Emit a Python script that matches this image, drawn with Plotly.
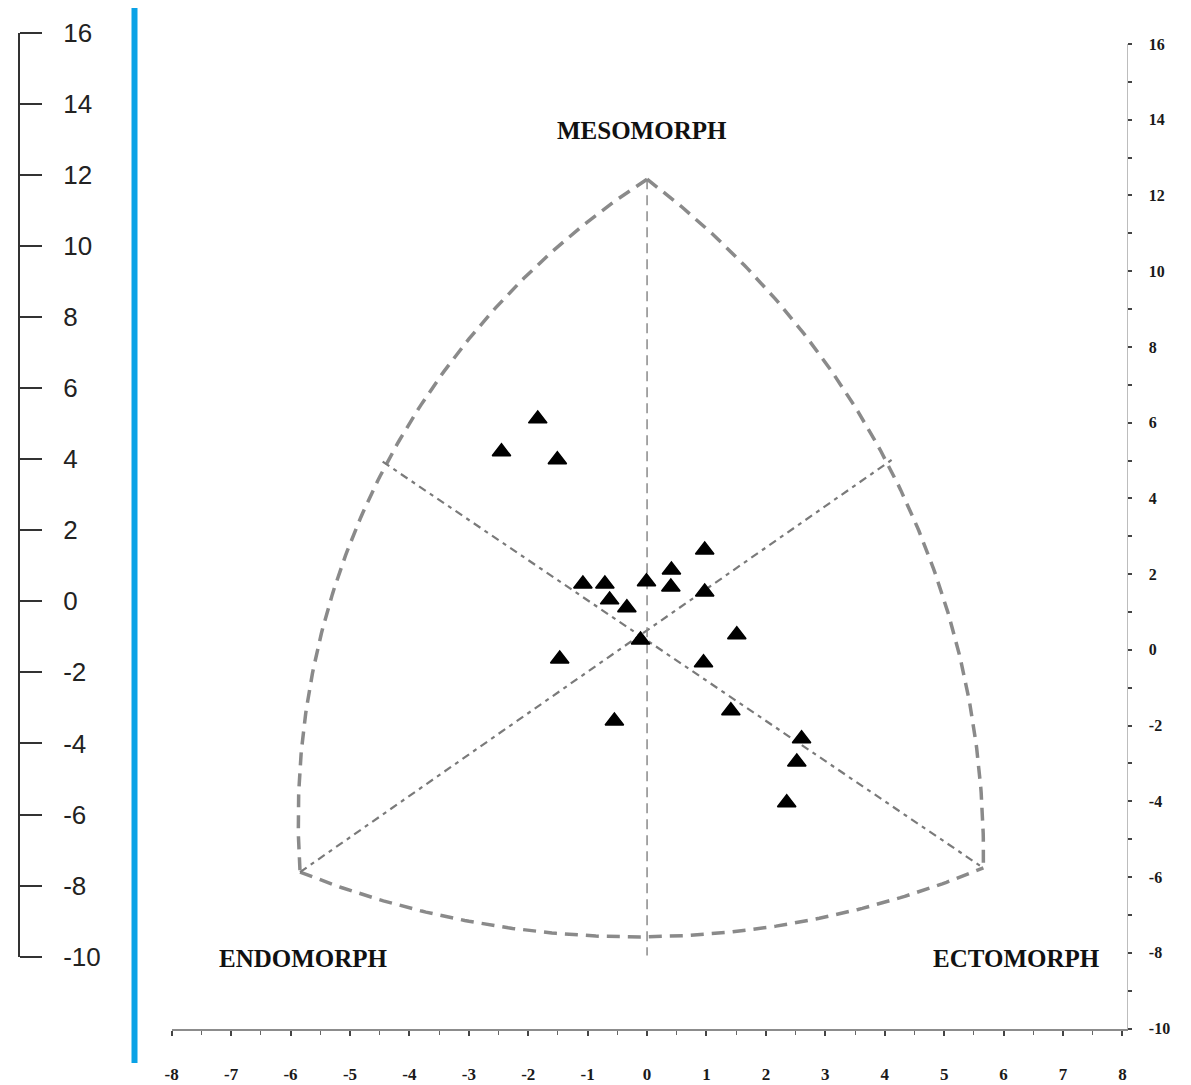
import numpy as np
import plotly.graph_objects as go

# ---------------- data ----------------
# somatotype points (X = ecto - endo, Y = 2*meso - endo - ecto)
som_x = [-1.84, -2.45, -1.51, 0.97, 0.41, -1.08, -0.71, -0.01, 0.40, 0.97, -0.63,
         -0.34, -0.11, 1.51, -1.47, 0.95, -0.55, 1.41, 2.60, 2.52, 2.35]
som_y = [6.10, 5.23, 5.02, 2.64, 2.11, 1.74, 1.74, 1.80, 1.66, 1.53, 1.32,
         1.11, 0.26, 0.40, -0.24, -0.34, -1.88, -1.61, -2.35, -2.96, -4.04]

# somatochart frame key points
apex = (0.0, 12.43)
endo_corner = (-5.84, -5.87)
ecto_corner = (5.66, -5.76)
left_arc_mid = (-5.34, 1.24)
right_arc_mid = (5.10, 0.79)
bottom_arc_mid = (0.0, -7.58)
left_side_mid = (-4.45, 4.97)
right_side_mid = (4.12, 5.02)
vertical_bottom = (0.0, -8.07)

# labels
corner_labels = ["MESOMORPH", "ENDOMORPH", "ECTOMORPH"]
corner_label_x = [-0.08, -5.78, 6.21]
corner_label_y = [13.71, -8.14, -8.14]

x_ticks = list(range(-8, 9))
y_ticks = list(range(-10, 17, 2))

# ---------------- layout geometry ----------------
W, H = 1191, 1085
OFF = 8  # page body margin
x_range = [-8, 8.07]
y_range = [-10, 16]


def fx(px):
    return (px - OFF) / W


def fy(py):
    return (H - (py - OFF)) / H


x_dom = [fx(171.7), fx(1126.6)]
y_dom = [fy(1028.5), fy(44.0)]
y2_dom = [fy(956.7), fy(32.7)]

sx = (x_dom[1] - x_dom[0]) * W / (x_range[1] - x_range[0])
sy = (y_dom[1] - y_dom[0]) * H / (y_range[1] - y_range[0])


def arc(p0, pm, p1, n=160):
    a = np.array([p0[0] * sx, p0[1] * sy])
    b = np.array([pm[0] * sx, pm[1] * sy])
    c = np.array([p1[0] * sx, p1[1] * sy])
    d = 2 * (a[0] * (b[1] - c[1]) + b[0] * (c[1] - a[1]) + c[0] * (a[1] - b[1]))
    ux = ((a @ a) * (b[1] - c[1]) + (b @ b) * (c[1] - a[1]) + (c @ c) * (a[1] - b[1])) / d
    uy = ((a @ a) * (c[0] - b[0]) + (b @ b) * (a[0] - c[0]) + (c @ c) * (b[0] - a[0])) / d
    r = np.hypot(a[0] - ux, a[1] - uy)
    t0 = np.arctan2(a[1] - uy, a[0] - ux)
    t1 = np.arctan2(b[1] - uy, b[0] - ux)
    t2 = np.arctan2(c[1] - uy, c[0] - ux)
    two = 2 * np.pi
    dend = (t2 - t0) % two
    dmid = (t1 - t0) % two
    span = dend if dmid < dend else -(two - dend)
    t = t0 + np.linspace(0, span, n)
    xs = (ux + r * np.cos(t)) / sx
    ys = (uy + r * np.sin(t)) / sy
    return [float(v) for v in xs], [float(v) for v in ys]


lx, ly = arc(apex, left_arc_mid, endo_corner)
rx, ry = arc(apex, right_arc_mid, ecto_corner)
bx, by = arc(endo_corner, bottom_arc_mid, ecto_corner)

fig = go.Figure()

# empty trace to show left axis (drawn first, below)
fig.add_trace(go.Scatter(x=[None], y=[None], xaxis="x", yaxis="y2",
                         showlegend=False, hoverinfo="skip"))

# outer frame
fig.add_trace(go.Scatter(
    x=lx + [None] + rx + [None] + bx, y=ly + [None] + ry + [None] + by,
    mode="lines", line=dict(color="#8a8a8a", width=3.5, dash="13px,8px"),
    hoverinfo="skip", showlegend=False))

# diagonals
fig.add_trace(go.Scatter(
    x=[left_side_mid[0], ecto_corner[0], None, endo_corner[0], right_side_mid[0]],
    y=[left_side_mid[1], ecto_corner[1], None, endo_corner[1], right_side_mid[1]],
    mode="lines", line=dict(color="#7a7a7a", width=2.2, dash="8px,5px,4px,5px"),
    hoverinfo="skip", showlegend=False))

# vertical
fig.add_trace(go.Scatter(
    x=[apex[0], vertical_bottom[0]], y=[apex[1], vertical_bottom[1]],
    mode="lines", line=dict(color="#8a8a8a", width=1.5, dash="10px,6px"),
    hoverinfo="skip", showlegend=False))

# points
fig.add_trace(go.Scatter(
    x=som_x, y=som_y, mode="markers",
    marker=dict(symbol="triangle-up", size=16, color="black",
                line=dict(color="black", width=1.5)),
    showlegend=False))

for txt, xx, yy in zip(corner_labels, corner_label_x, corner_label_y):
    fig.add_annotation(x=xx, y=yy, xref="x", yref="y", text=txt, showarrow=False,
                       font=dict(family="Liberation Serif", size=25, color="#111",
                                 weight="bold"))

serif_tick = dict(family="Liberation Serif", size=16, color="#1a1a1a", weight="bold")

fig.update_layout(
    width=W, height=H, autosize=False, showlegend=False,
    margin=dict(l=0, r=0, t=0, b=0, pad=0, autoexpand=False),
    paper_bgcolor="white", plot_bgcolor="rgba(0,0,0,0)",
    xaxis=dict(domain=x_dom, range=x_range, anchor="y", automargin=False,
               tickvals=x_ticks, ticktext=[str(v) for v in x_ticks],
               showgrid=False, zeroline=False,
               showline=True, linecolor="#8c8c8c", linewidth=2,
               ticks="outside", ticklen=5, tickwidth=1.5, tickcolor="#444",
               minor=dict(dtick=0.5, ticks="outside", ticklen=4, tickcolor="#666",
                          tickwidth=1, showgrid=False),
               tickfont=dict(family="Liberation Serif", size=17, color="#1a1a1a",
                             weight="bold"),
               ticklabelstandoff=24),
    yaxis=dict(domain=y_dom, range=y_range, anchor="x", side="right", automargin=False,
               tickvals=y_ticks, ticktext=[str(v) for v in y_ticks],
               showgrid=False, zeroline=False,
               showline=True, linecolor="#bdbdbd", linewidth=1,
               ticks="outside", ticklen=4, tickwidth=2, tickcolor="#444",
               minor=dict(dtick=1, ticks="outside", ticklen=4, tickcolor="#444",
                          tickwidth=2, showgrid=False),
               tickfont=serif_tick, ticklabelstandoff=14),
    yaxis2=dict(domain=y2_dom, range=y_range, anchor="free", position=fx(19),
                side="right", automargin=False,
                tickvals=y_ticks, ticktext=[str(v) for v in y_ticks],
                showgrid=False, zeroline=False,
                showline=True, linecolor="#333", linewidth=2,
                ticks="outside", ticklen=22, tickwidth=2, tickcolor="#333",
                tickfont=dict(family="Liberation Sans", size=26, color="#222"),
                ticklabelstandoff=16),
    shapes=[dict(type="line", xref="paper", yref="paper",
                 x0=fx(134.5), x1=fx(134.5), y0=fy(1063), y1=fy(6),
                 line=dict(color="#0AA2E6", width=6))],
)

fig.write_html("out.html")
